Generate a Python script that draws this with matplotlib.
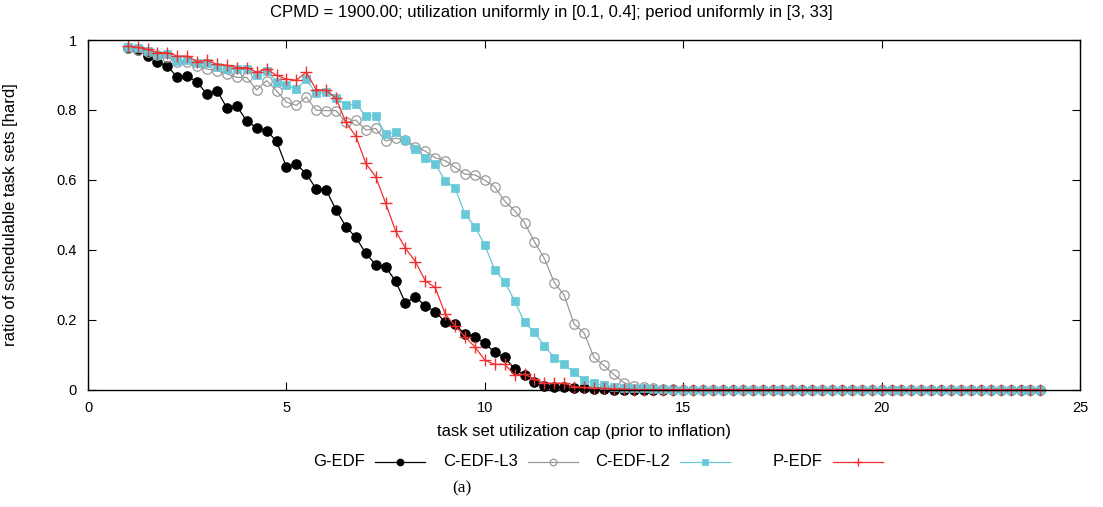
import numpy as np
import matplotlib
matplotlib.use('Agg')
import matplotlib.pyplot as plt
from matplotlib.lines import Line2D

plt.rcParams['font.family'] = ['Liberation Sans', 'DejaVu Sans']

# task set utilization cap, 1 .. 24 in steps of 0.25
cap = np.arange(1.0, 24.0 + 0.001, 0.25)

g_edf = [0.978, 0.971, 0.955, 0.936, 0.926, 0.893, 0.898, 0.879, 0.845, 0.855,
         0.806, 0.811, 0.768, 0.749, 0.740, 0.711, 0.636, 0.645, 0.617, 0.574,
         0.571, 0.514, 0.466, 0.435, 0.390, 0.357, 0.350, 0.311, 0.247, 0.266,
         0.239, 0.223, 0.193, 0.187, 0.158, 0.151, 0.132, 0.106, 0.092, 0.059,
         0.041, 0.021, 0.011, 0.008, 0.006, 0.004, 0.003, 0.002, 0.001, 0.0,
         0.0, 0.0, 0.0, 0.0, 0.0, 0.0, 0.0, 0.0, 0.0, 0.0,
         0.0, 0.0, 0.0, 0.0, 0.0, 0.0, 0.0, 0.0, 0.0, 0.0,
         0.0, 0.0, 0.0, 0.0, 0.0, 0.0, 0.0, 0.0, 0.0, 0.0,
         0.0, 0.0, 0.0, 0.0, 0.0, 0.0, 0.0, 0.0, 0.0, 0.0,
         0.0, 0.0, 0.0]

c_edf_l3 = [0.978, 0.972, 0.965, 0.958, 0.950, 0.938, 0.936, 0.926, 0.917, 0.912,
            0.903, 0.893, 0.893, 0.857, 0.884, 0.855, 0.822, 0.813, 0.837, 0.799,
            0.798, 0.798, 0.764, 0.771, 0.742, 0.747, 0.711, 0.719, 0.714, 0.695,
            0.682, 0.663, 0.655, 0.636, 0.616, 0.614, 0.599, 0.580, 0.539, 0.512,
            0.477, 0.423, 0.375, 0.306, 0.270, 0.187, 0.162, 0.092, 0.069, 0.043,
            0.020, 0.010, 0.008, 0.004, 0.002, 0.001, 0.0, 0.0, 0.0, 0.0,
            0.0, 0.0, 0.0, 0.0, 0.0, 0.0, 0.0, 0.0, 0.0, 0.0,
            0.0, 0.0, 0.0, 0.0, 0.0, 0.0, 0.0, 0.0, 0.0, 0.0,
            0.0, 0.0, 0.0, 0.0, 0.0, 0.0, 0.0, 0.0, 0.0, 0.0,
            0.0, 0.0, 0.0]

c_edf_l2 = [0.981, 0.976, 0.968, 0.957, 0.960, 0.941, 0.943, 0.933, 0.933, 0.924,
            0.916, 0.916, 0.916, 0.900, 0.912, 0.880, 0.871, 0.859, 0.887, 0.847,
            0.850, 0.835, 0.814, 0.816, 0.783, 0.783, 0.730, 0.736, 0.713, 0.688,
            0.663, 0.644, 0.598, 0.576, 0.502, 0.466, 0.413, 0.342, 0.308, 0.254,
            0.192, 0.164, 0.125, 0.091, 0.072, 0.049, 0.027, 0.018, 0.012, 0.008,
            0.005, 0.004, 0.003, 0.002, 0.001, 0.0, 0.0, 0.0, 0.0, 0.0,
            0.0, 0.0, 0.0, 0.0, 0.0, 0.0, 0.0, 0.0, 0.0, 0.0,
            0.0, 0.0, 0.0, 0.0, 0.0, 0.0, 0.0, 0.0, 0.0, 0.0,
            0.0, 0.0, 0.0, 0.0, 0.0, 0.0, 0.0, 0.0, 0.0, 0.0,
            0.0, 0.0, 0.0]

p_edf = [0.983, 0.979, 0.973, 0.964, 0.964, 0.954, 0.954, 0.938, 0.943, 0.930,
         0.928, 0.921, 0.921, 0.908, 0.917, 0.899, 0.888, 0.885, 0.908, 0.858,
         0.856, 0.834, 0.764, 0.725, 0.647, 0.609, 0.533, 0.454, 0.404, 0.366,
         0.311, 0.292, 0.216, 0.182, 0.151, 0.122, 0.084, 0.072, 0.072, 0.042,
         0.044, 0.030, 0.018, 0.018, 0.018, 0.008, 0.006, 0.004, 0.003, 0.002,
         0.001, 0.0, 0.0, 0.0, 0.0, 0.0, 0.0, 0.0, 0.0, 0.0,
         0.0, 0.0, 0.0, 0.0, 0.0, 0.0, 0.0, 0.0, 0.0, 0.0,
         0.0, 0.0, 0.0, 0.0, 0.0, 0.0, 0.0, 0.0, 0.0, 0.0,
         0.0, 0.0, 0.0, 0.0, 0.0, 0.0, 0.0, 0.0, 0.0, 0.0,
         0.0, 0.0, 0.0]

names = ['G-EDF', 'C-EDF-L3', 'C-EDF-L2', 'P-EDF']
series = [g_edf, c_edf_l3, c_edf_l2, p_edf]
styles = [
    dict(color='black', marker='o', ms=6.8, mfc='black', mec='black', mew=0.8),
    dict(color='#999999', marker='o', ms=6.8, mfc='none', mec='#999999', mew=0.9),
    dict(color='#66c8d8', marker='s', ms=5.8, mfc='#66c8d8', mec='#66c8d8', mew=0.5),
    dict(color='#f03030', marker='+', ms=8, mfc='none', mec='#f03030', mew=1.0),
]

fig = plt.figure(figsize=(11.03, 5.07), dpi=100)
ax = fig.add_axes([0.0798, 0.2317, 0.8994, 0.6894])

for y, st in zip(series, styles):
    ax.plot(cap, y, lw=0.9, clip_on=False, **st)

ax.set_xlim(0, 25)
ax.set_ylim(0, 1)
ax.set_xticks([0, 5, 10, 15, 20, 25])
ax.set_yticks([0, 0.2, 0.4, 0.6, 0.8, 1.0])
ax.set_yticklabels(['0', '0.2', '0.4', '0.6', '0.8', '1'])
ax.tick_params(direction='in', top=True, right=True, length=6, width=0.8,
               labelsize=10.5, pad=8)
for sp in ax.spines.values():
    sp.set_linewidth(1.0)

ax.set_xlabel('task set utilization cap (prior to inflation)', fontsize=12)
ax.xaxis.set_label_coords(0.5, -0.098)
ax.set_ylabel('ratio of schedulable task sets [hard]', fontsize=12)
ax.yaxis.set_label_coords(-0.0706, 0.5)
fig.text(0.5, 0.976, 'CPMD = 1900.00; utilization uniformly in [0.1, 0.4]; period uniformly in [3, 33]',
         ha='center', va='center', fontsize=12)

# gnuplot-style key: label right-aligned, sample line to its right
W, H = 1103.0, 507.0
key_y = 1 - 462 / H
for k, (name, st) in enumerate(zip(names, styles)):
    x_end = 365 + 152.5 * k
    fig.text((x_end) / W, key_y, name, ha='right', va='center', fontsize=12)
    fig.add_artist(Line2D([(x_end + 10) / W, (x_end + 60) / W], [key_y, key_y],
                          transform=fig.transFigure, lw=0.9, color=st['color']))
    small = dict(st)
    small['ms'] = st['ms'] * 0.7
    small.pop('color')
    fig.add_artist(Line2D([(x_end + 35) / W], [key_y], transform=fig.transFigure,
                          ls='none', **small))

fig.text(462 / W, 1 - 488 / H, '(a)', ha='center', va='center', fontsize=12.5,
         family=['Liberation Serif', 'DejaVu Serif'])

fig.savefig('out.png', dpi=100)
